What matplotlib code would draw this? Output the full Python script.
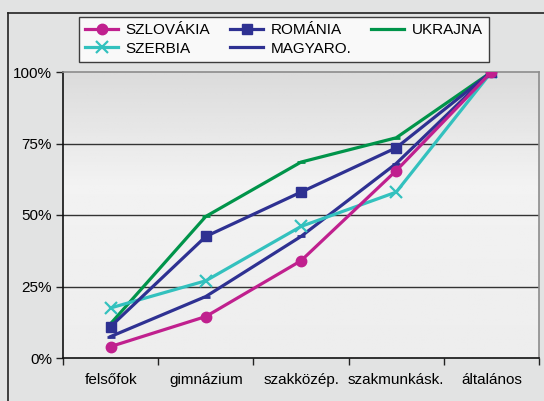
import numpy as np
import matplotlib
matplotlib.use("Agg")
import matplotlib.pyplot as plt
from matplotlib.lines import Line2D

plt.rcParams['font.family'] = ['Liberation Sans', 'DejaVu Sans']

# Data (cumulative share by education level)
categories = ["felsőfok", "gimnázium", "szakközép.", "szakmunkásk.", "általános"]
szlovakia = [4, 14.5, 34, 65.5, 100]
romania = [11, 42.5, 58, 73.5, 100]
ukrajna = [12, 49.5, 68.5, 77, 100]
szerbia = [17.5, 27, 46, 58, 100]
magyaro = [7.5, 21.5, 42.5, 68, 100]

fig = plt.figure(figsize=(5.44, 4.01), dpi=100)
fig.patch.set_facecolor('#E2E3E3')

# outer chart frame (left and top edges visible)
fx, fy = 8 / 544, 1 - 13 / 401
fig.add_artist(Line2D([fx, fx], [0, fy], color='#222222', lw=1.2, transform=fig.transFigure))
fig.add_artist(Line2D([fx, 1], [fy, fy], color='#222222', lw=1.2, transform=fig.transFigure))

ax = fig.add_axes([63 / 544, 43 / 401, 476 / 544, 286 / 401])
ax.set_facecolor('#EEEFEF')

# soft gradient in the plot area
grad = np.concatenate([np.linspace(0.86, 0.95, 40), np.linspace(0.95, 0.93, 60)])
ax.imshow(grad[:, None] * np.ones((1, 10)), cmap='gray', vmin=0, vmax=1,
          extent=[-0.5, 4.5, 0, 100], aspect='auto', zorder=0, origin='upper')

x = np.arange(len(categories))
lw = 2.3
ax.plot(x, ukrajna, color='#00944A', lw=lw, marker='_', ms=6, mew=2, zorder=3)
ax.plot(x, magyaro, color='#2E3192', lw=lw, marker='_', ms=6, mew=2, zorder=3)
ax.plot(x, szerbia, color='#33C1BE', lw=lw, marker='x', ms=8, mew=1.6, zorder=4)
ax.plot(x, romania, color='#2E3192', lw=lw, marker='s', ms=7, zorder=5)
ax.plot(x, szlovakia, color='#C0208E', lw=lw, marker='o', ms=7.5, zorder=6)

ax.set_xlim(-0.5, 4.5)
ax.set_ylim(0, 100)
ax.set_xticks(x)
ax.set_xticklabels(categories, fontsize=11)
ax.set_xticks(np.arange(-0.5, 5, 1), minor=True)
ax.tick_params(axis='x', which='major', length=0, pad=11)
ax.tick_params(axis='x', which='minor', length=5, width=1, color='#222222')
ax.set_yticks([0, 25, 50, 75, 100])
ax.set_yticklabels(['0%', '25%', '50%', '75%', '100%'], fontsize=11)
ax.tick_params(axis='y', length=5, width=1, color='#222222', pad=3)

for v in [25, 50, 75]:
    ax.axhline(v, color='#333333', lw=1, zorder=1)

ax.spines['left'].set_color('#111111')
ax.spines['bottom'].set_color('#111111')
ax.spines['top'].set_color('#8C8C8C')
ax.spines['right'].set_color('#8C8C8C')
for s in ax.spines.values():
    s.set_linewidth(1.2)

# legend (column-wise order so rows read like the original)
handles = [
    Line2D([], [], color='#C0208E', lw=lw, marker='o', ms=7.5),
    Line2D([], [], color='#33C1BE', lw=lw, marker='x', ms=8, mew=1.6),
    Line2D([], [], color='#2E3192', lw=lw, marker='s', ms=7),
    Line2D([], [], color='#2E3192', lw=lw),
    Line2D([], [], color='#00944A', lw=lw),
]
labels = ['SZLOVÁKIA', 'SZERBIA', 'ROMÁNIA', 'MAGYARO.', 'UKRAJNA']
leg = fig.legend(handles, labels, ncol=3, loc='upper left',
                 bbox_to_anchor=(79 / 544, 1 - 17 / 401), fontsize=11,
                 frameon=True, fancybox=False, edgecolor='#111111',
                 handlelength=2.15, handletextpad=0.5, columnspacing=1.3,
                 borderpad=0.4, labelspacing=0.3, borderaxespad=0)
leg.get_frame().set_linewidth(1.0)
leg.get_frame().set_facecolor('white')

fig.savefig('out.png', dpi=100, facecolor=fig.get_facecolor())
